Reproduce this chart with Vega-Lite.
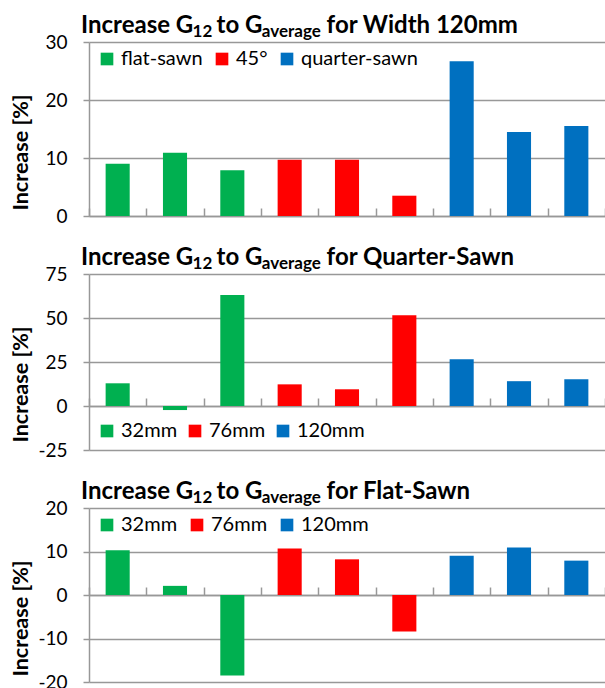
{
  "$schema": "https://vega.github.io/schema/vega-lite/v6.json",
  "padding": {"left": 9, "top": 14, "right": 0, "bottom": 0},
  "spacing": 20,
  "config": {
    "font": "Lato",
    "view": {"stroke": null},
    "title": {"anchor": "start", "frame": "group", "dx": -8, "font": "Lato", "fontSize": 24, "fontWeight": "bold", "color": "#000000", "subtitleFont": "Lato", "subtitleFontSize": 17, "subtitleFontWeight": "bold", "subtitleColor": "#000000", "subtitlePadding": -14, "offset": -7},
    "axisY": {"grid": true, "gridColor": "#989898", "gridWidth": 1.5, "domainColor": "#989898", "domainWidth": 1.5, "tickColor": "#989898", "tickWidth": 1.5, "tickSize": 6, "labelFont": "Lato", "labelFontSize": 19, "labelColor": "#000000", "labelPadding": 16, "labelExpr": "replace(datum.label, '\u2212', '-')", "titleFont": "Lato", "titleFontSize": 21.5, "titleFontWeight": "bold", "titleColor": "#000000", "titleX": -68, "titleY": 110, "titleAlign": "center", "titleBaseline": "middle", "titleAngle": -90},
    "axisX": {"grid": false, "labels": false, "domainColor": "#989898", "domainWidth": 1.5, "tickColor": "#989898", "tickWidth": 1.5, "tickSize": -8, "tickBand": "extent"},
    "legend": {"direction": "horizontal", "symbolType": "square", "symbolSize": 160, "symbolStrokeWidth": 0, "labelFont": "Lato", "labelFontSize": 20, "labelColor": "#000000", "labelOffset": 4, "columnPadding": 8, "padding": 0, "offset": 7, "symbolOffset": 1}
  },
  "vconcat": [
    {
      "width": 516, "height": 174,
      "title": {"text": "Increase G\u00a0\u00a0\u00a0 to G\u00a0\u00a0\u00a0\u00a0\u00a0\u00a0\u00a0\u00a0\u00a0\u00a0 for Width 120mm", "subtitle": "\u200c\u00a0\u00a0\u00a0\u00a0\u00a0\u00a0\u00a0\u00a0\u00a0\u00a0\u00a0\u00a0\u00a0\u00a0\u00a0\u00a0\u00a0\u00a0\u00a0\u00a0\u00a0\u00a0\u00a0\u00a0\u00a0\u00a0\u00a012\u00a0\u00a0\u00a0\u00a0\u00a0\u00a0\u00a0\u00a0\u00a0\u00a0\u00a0\u00a0average"},
      "data": {"values": [
        {"bar": "1", "group": "flat-sawn", "value": 9.0},
        {"bar": "2", "group": "flat-sawn", "value": 10.9},
        {"bar": "3", "group": "flat-sawn", "value": 7.9},
        {"bar": "4", "group": "45°", "value": 9.7},
        {"bar": "5", "group": "45°", "value": 9.7},
        {"bar": "6", "group": "45°", "value": 3.5},
        {"bar": "7", "group": "quarter-sawn", "value": 26.7},
        {"bar": "8", "group": "quarter-sawn", "value": 14.5},
        {"bar": "9", "group": "quarter-sawn", "value": 15.5}
      ]},
      "mark": {"type": "bar", "width": {"band": 0.42}},
      "encoding": {
        "x": {"field": "bar", "type": "nominal", "sort": null, "title": null, "scale": {"paddingInner": 0, "paddingOuter": 0}, "axis": {}},
        "y": {"field": "value", "type": "quantitative", "title": "Increase [%]", "scale": {"domain": [0, 30], "nice": false}, "axis": {"values": [0, 10, 20, 30]}},
        "color": {"field": "group", "type": "nominal", "title": null, "scale": {"domain": ["flat-sawn", "45°", "quarter-sawn"], "range": ["#00B050", "#FF0000", "#0070C0"]}, "legend": {"orient": "top-left"}}
      }
    },
    {
      "width": 516, "height": 176,
      "title": {"text": "Increase G\u00a0\u00a0\u00a0 to G\u00a0\u00a0\u00a0\u00a0\u00a0\u00a0\u00a0\u00a0\u00a0\u00a0 for Quarter-Sawn", "subtitle": "\u200c\u00a0\u00a0\u00a0\u00a0\u00a0\u00a0\u00a0\u00a0\u00a0\u00a0\u00a0\u00a0\u00a0\u00a0\u00a0\u00a0\u00a0\u00a0\u00a0\u00a0\u00a0\u00a0\u00a0\u00a0\u00a0\u00a0\u00a012\u00a0\u00a0\u00a0\u00a0\u00a0\u00a0\u00a0\u00a0\u00a0\u00a0\u00a0\u00a0average"},
      "data": {"values": [
        {"bar": "1", "group": "32mm", "value": 12.9},
        {"bar": "2", "group": "32mm", "value": -2.3},
        {"bar": "3", "group": "32mm", "value": 63.0},
        {"bar": "4", "group": "76mm", "value": 12.3},
        {"bar": "5", "group": "76mm", "value": 9.5},
        {"bar": "6", "group": "76mm", "value": 51.6},
        {"bar": "7", "group": "120mm", "value": 26.6},
        {"bar": "8", "group": "120mm", "value": 14.1},
        {"bar": "9", "group": "120mm", "value": 15.2}
      ]},
      "mark": {"type": "bar", "width": {"band": 0.42}},
      "encoding": {
        "x": {"field": "bar", "type": "nominal", "sort": null, "title": null, "scale": {"paddingInner": 0, "paddingOuter": 0}, "axis": {"offset": -44}},
        "y": {"field": "value", "type": "quantitative", "title": "Increase [%]", "scale": {"domain": [-25, 75], "nice": false}, "axis": {"values": [-25, 0, 25, 50, 75]}},
        "color": {"field": "group", "type": "nominal", "title": null, "scale": {"domain": ["32mm", "76mm", "120mm"], "range": ["#00B050", "#FF0000", "#0070C0"]}, "legend": {"orient": "bottom-left", "offset": 9, "symbolOffset": -1}}
      }
    },
    {
      "width": 516, "height": 174,
      "title": {"text": "Increase G\u00a0\u00a0\u00a0 to G\u00a0\u00a0\u00a0\u00a0\u00a0\u00a0\u00a0\u00a0\u00a0\u00a0 for Flat-Sawn", "subtitle": "\u200c\u00a0\u00a0\u00a0\u00a0\u00a0\u00a0\u00a0\u00a0\u00a0\u00a0\u00a0\u00a0\u00a0\u00a0\u00a0\u00a0\u00a0\u00a0\u00a0\u00a0\u00a0\u00a0\u00a0\u00a0\u00a0\u00a0\u00a012\u00a0\u00a0\u00a0\u00a0\u00a0\u00a0\u00a0\u00a0\u00a0\u00a0\u00a0\u00a0average"},
      "data": {"values": [
        {"bar": "1", "group": "32mm", "value": 10.3},
        {"bar": "2", "group": "32mm", "value": 2.1},
        {"bar": "3", "group": "32mm", "value": -18.5},
        {"bar": "4", "group": "76mm", "value": 10.7},
        {"bar": "5", "group": "76mm", "value": 8.2},
        {"bar": "6", "group": "76mm", "value": -8.4},
        {"bar": "7", "group": "120mm", "value": 9.0},
        {"bar": "8", "group": "120mm", "value": 10.9},
        {"bar": "9", "group": "120mm", "value": 7.9}
      ]},
      "mark": {"type": "bar", "width": {"band": 0.42}},
      "encoding": {
        "x": {"field": "bar", "type": "nominal", "sort": null, "title": null, "scale": {"paddingInner": 0, "paddingOuter": 0}, "axis": {"offset": -87}},
        "y": {"field": "value", "type": "quantitative", "title": "Increase [%]", "scale": {"domain": [-20, 20], "nice": false}, "axis": {"values": [-20, -10, 0, 10, 20]}},
        "color": {"field": "group", "type": "nominal", "title": null, "scale": {"domain": ["32mm", "76mm", "120mm"], "range": ["#00B050", "#FF0000", "#0070C0"]}, "legend": {"orient": "top-left"}}
      }
    }
  ],
  "resolve": {"scale": {"color": "independent", "y": "independent", "x": "independent"}}
}
